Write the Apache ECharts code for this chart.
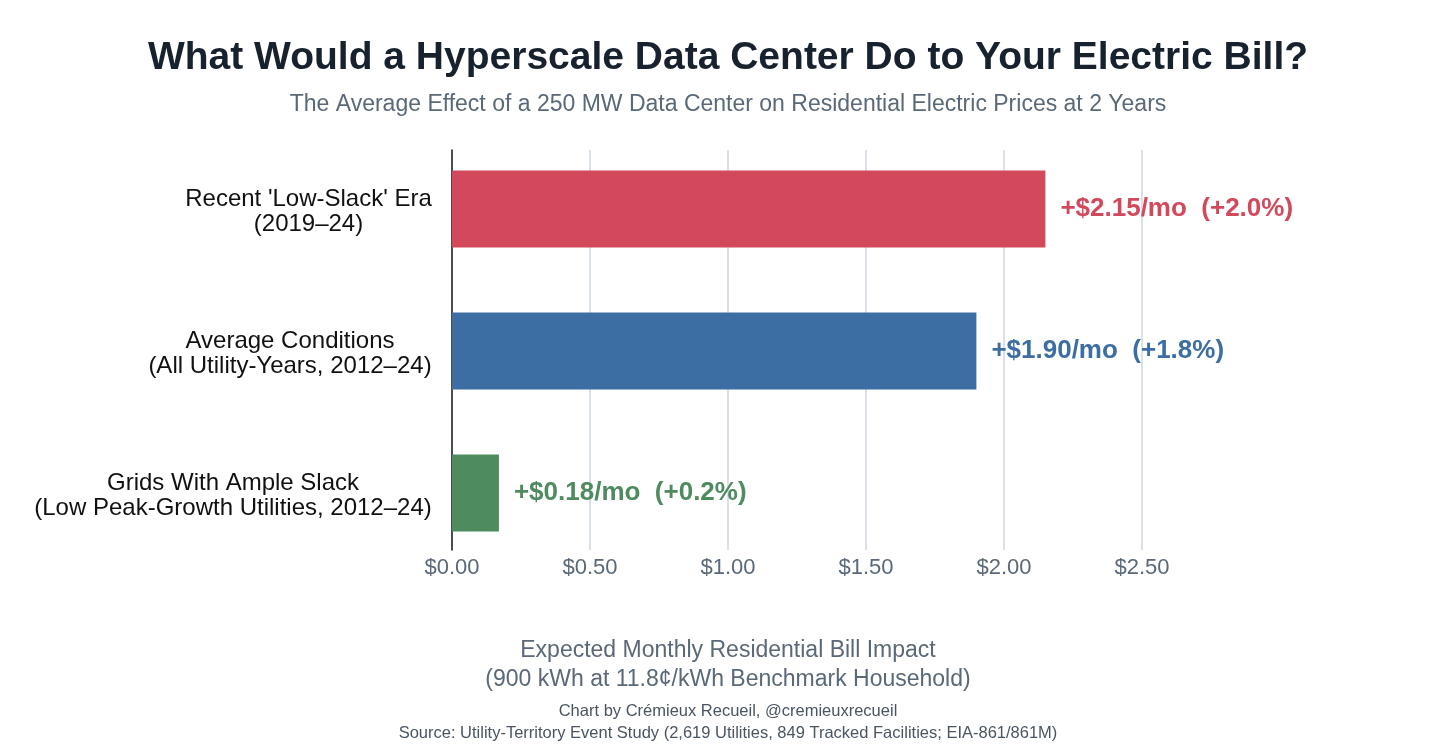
<!DOCTYPE html>
<html>
<head>
<meta charset="utf-8">
<script src="https://cdn.jsdelivr.net/npm/echarts@6/dist/echarts.min.js"></script>
<style>
  html, body { margin: 0; padding: 0; background: #fff; }
  #main { width: 1456px; height: 756px; }
</style>
</head>
<body>
<div id="main"></div>
<script>
// categories top to bottom
const categories = [
    "Recent 'Low-Slack' Era\n(2019–24)",
    "Average Conditions\n(All Utility-Years, 2012–24)",
    "Grids With Ample Slack\n(Low Peak-Growth Utilities, 2012–24)"
];
const impact = [2.15, 1.90, 0.17];
const valueLabels = [
    '+$2.15/mo  (+2.0%)',
    '+$1.90/mo  (+1.8%)',
    '+$0.18/mo  (+0.2%)'
];
const barColors = ['#d2495c', '#3c6ea3', '#4e8b5e'];

const font = '"Liberation Sans", Arial, sans-serif';
const catFontSize = 24;

// each category label: lines centred within their own block, block right-aligned to the axis
const measure = document.createElement('canvas').getContext('2d');
measure.font = catFontSize + 'px ' + font;
const rich = {};
categories.forEach((c, i) => {
    const w = Math.max(...c.split('\n').map(l => measure.measureText(l).width));
    rich['c' + i] = { width: Math.ceil(w), align: 'center', fontSize: catFontSize, color: '#111', fontFamily: font, lineHeight: 25 };
});

const chart = echarts.init(document.getElementById('main'));

function centeredText(text, y, size, color, weight) {
    return {
        type: 'text',
        x: 728,
        y: y,
        style: {
            text: text,
            fill: color,
            font: (weight || 'normal') + ' ' + size + 'px ' + font,
            align: 'center',
            verticalAlign: 'middle'
        }
    };
}

var option = {
    backgroundColor: '#fff',
    animation: false,
    textStyle: { fontFamily: font },
    graphic: [
        centeredText('What Would a Hyperscale Data Center Do to Your Electric Bill?', 58, 39, '#18222e', 'bold'),
        centeredText('The Average Effect of a 250 MW Data Center on Residential Electric Prices at 2 Years', 105, 23, '#5a6878'),
        centeredText('Expected Monthly Residential Bill Impact', 651, 23, '#5a6878'),
        centeredText('(900 kWh at 11.8¢/kWh Benchmark Household)', 680, 23, '#5a6878'),
        centeredText('Chart by Crémieux Recueil, @cremieuxrecueil', 711, 16.5, '#4a5562'),
        centeredText('Source: Utility-Territory Event Study (2,619 Utilities, 849 Tracked Facilities; EIA-861/861M)', 733, 16.5, '#4a5562')
    ],
    grid: [
        { left: 452, right: 314, top: 150, bottom: 206 },  // gridlines + axis
        { left: 452, right: 314, top: 138, height: 426 }    // bars
    ],
    xAxis: [{
        gridIndex: 0,
        type: 'value',
        min: 0,
        max: 2.5,
        interval: 0.5,
        axisLine: { show: false },
        axisTick: { show: false },
        axisLabel: {
            fontSize: 22,
            color: '#5a6878',
            margin: 7,
            fontFamily: font,
            formatter: v => '$' + v.toFixed(2)
        },
        splitLine: { show: true, lineStyle: { color: '#cfd9df', width: 1.5 } }
    }, {
        gridIndex: 1,
        type: 'value',
        min: 0,
        max: 2.5,
        show: false
    }],
    yAxis: [{
        gridIndex: 0,
        type: 'value',
        min: 0,
        max: 1,
        axisLine: { show: true, lineStyle: { color: '#1a1a1a', width: 1.5 } },
        axisTick: { show: false },
        axisLabel: { show: false },
        splitLine: { show: false }
    }, {
        gridIndex: 1,
        type: 'category',
        inverse: true,
        data: categories,
        axisLine: { show: false },
        axisTick: { show: false },
        splitLine: { show: false },
        axisLabel: {
            align: 'right',
            margin: 20,
            padding: [6, 0, 0, 0],
            rich: rich,
            formatter: (value, index) => value.split('\n').map(l => '{c' + index + '|' + l + '}').join('\n')
        }
    }],
    series: [{
        type: 'bar',
        xAxisIndex: 1,
        yAxisIndex: 1,
        barWidth: 77,
        data: impact.map((v, i) => ({
            value: v,
            itemStyle: { color: barColors[i] },
            label: { color: barColors[i] }
        })),
        label: {
            show: true,
            position: 'right',
            distance: 15,
            fontSize: 26,
            fontWeight: 'bold',
            fontFamily: font,
            formatter: p => valueLabels[p.dataIndex]
        }
    }]
};

chart.setOption(option);
</script>
</body>
</html>
